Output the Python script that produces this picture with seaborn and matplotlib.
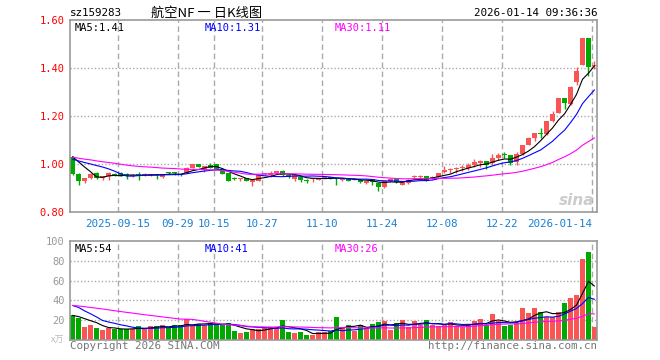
import numpy as np
import pandas as pd
import matplotlib
matplotlib.use("Agg")
import matplotlib.pyplot as plt
import seaborn as sns

# header texts
code = "sz159283"
title = "航空NF 一 日K线图"
stamp = "2026-01-14 09:36:36"

# daily candles, 88 trading days (2025-09-03 .. 2026-01-14)
opens = [1.032, 0.960, 0.929, 0.943, 0.965, 0.943, 0.951, 0.958, 0.965, 0.957,
         0.952, 0.957, 0.954, 0.954, 0.958, 0.948, 0.966, 0.963, 0.958, 0.965,
         0.985, 1.001, 0.976, 0.999, 1.000, 0.982, 0.962, 0.941, 0.940, 0.943,
         0.926, 0.932, 0.959, 0.954, 0.962, 0.973, 0.957, 0.940, 0.949, 0.935,
         0.937, 0.935, 0.943, 0.946, 0.943, 0.935, 0.937, 0.935, 0.935, 0.921,
         0.937, 0.921, 0.904, 0.929, 0.937, 0.915, 0.921, 0.948, 0.948, 0.951,
         0.940, 0.946, 0.968, 0.975, 0.981, 0.986, 0.985, 0.999, 1.007, 1.012,
         1.004, 1.026, 1.038, 1.037, 1.010, 1.043, 1.082, 1.110, 1.131, 1.126,
         1.182, 1.215, 1.276, 1.251, 1.343, 1.415, 1.526, 1.408]
highs = [1.035, 0.962, 0.945, 0.963, 0.967, 0.952, 0.966, 0.962, 0.967, 0.962,
         0.958, 0.967, 0.962, 0.960, 0.960, 0.960, 0.970, 0.968, 0.960, 0.987,
         1.002, 1.002, 0.995, 1.005, 1.002, 0.985, 0.964, 0.946, 0.945, 0.945,
         0.937, 0.956, 0.965, 0.973, 0.973, 0.975, 0.959, 0.956, 0.951, 0.937,
         0.945, 0.945, 0.951, 0.948, 0.945, 0.942, 0.939, 0.942, 0.937, 0.934,
         0.939, 0.923, 0.934, 0.942, 0.939, 0.928, 0.937, 0.957, 0.957, 0.953,
         0.951, 0.964, 0.993, 0.985, 0.990, 0.996, 1.007, 1.024, 1.018, 1.014,
         1.043, 1.049, 1.051, 1.040, 1.051, 1.082, 1.112, 1.130, 1.151, 1.180,
         1.224, 1.278, 1.278, 1.326, 1.404, 1.527, 1.527, 1.429]
lows = [0.955, 0.915, 0.924, 0.938, 0.938, 0.934, 0.934, 0.950, 0.950, 0.940,
        0.949, 0.935, 0.952, 0.952, 0.940, 0.943, 0.960, 0.955, 0.950, 0.962,
        0.984, 0.988, 0.966, 0.983, 0.980, 0.958, 0.930, 0.934, 0.932, 0.930,
        0.910, 0.930, 0.955, 0.948, 0.960, 0.952, 0.944, 0.932, 0.926, 0.924,
        0.925, 0.933, 0.941, 0.938, 0.915, 0.929, 0.930, 0.933, 0.924, 0.919,
        0.915, 0.890, 0.902, 0.927, 0.924, 0.913, 0.919, 0.940, 0.942, 0.930,
        0.938, 0.944, 0.962, 0.962, 0.965, 0.971, 0.976, 0.990, 0.990, 0.982,
        0.996, 1.018, 1.026, 0.996, 0.996, 1.040, 1.080, 1.096, 1.110, 1.124,
        1.176, 1.212, 1.232, 1.249, 1.332, 1.413, 1.368, 1.399]
closes = [0.960, 0.932, 0.943, 0.960, 0.943, 0.950, 0.962, 0.955, 0.951, 0.955,
          0.955, 0.955, 0.958, 0.958, 0.954, 0.958, 0.965, 0.962, 0.954, 0.985,
          1.001, 0.990, 0.993, 0.985, 0.982, 0.960, 0.932, 0.940, 0.941, 0.932,
          0.935, 0.954, 0.960, 0.965, 0.971, 0.954, 0.946, 0.954, 0.935, 0.932,
          0.943, 0.943, 0.949, 0.940, 0.937, 0.940, 0.932, 0.940, 0.926, 0.932,
          0.926, 0.904, 0.932, 0.940, 0.926, 0.926, 0.935, 0.950, 0.950, 0.932,
          0.949, 0.962, 0.976, 0.977, 0.983, 0.988, 0.998, 1.010, 1.012, 0.999,
          1.026, 1.037, 1.037, 1.007, 1.043, 1.079, 1.110, 1.129, 1.128, 1.179,
          1.210, 1.276, 1.257, 1.324, 1.388, 1.526, 1.404, 1.410]
# volume in 10k units
volumes = [25, 22.3, 13.6, 15.6, 12.3, 10.3, 12.3, 11.6, 11, 11,
           11.6, 14.3, 11, 14.3, 14.3, 15.6, 12.3, 15, 15, 21,
           14.3, 16.3, 15.6, 17, 17, 15, 17, 9.6, 7.6, 8.3,
           11, 11.6, 13, 13.6, 13, 20.3, 8.3, 7.6, 8.3, 5,
           5, 8.3, 8.3, 9, 23.6, 13, 15, 9.6, 15, 12.3,
           16.3, 18.3, 19.6, 10.3, 17, 20.3, 13, 19.6, 15, 20.3,
           15, 14.3, 15, 18.3, 14.3, 13.6, 15, 19.6, 21.6, 15,
           26.3, 19.6, 14.3, 15, 17.6, 32.3, 27.6, 32.3, 28, 23,
           23, 28, 37.6, 42.5, 45.5, 81.5, 89, 13.6]

# estimated sessions before the window (only feed the moving averages)
hist_close = [1.07, 1.06, 1.05, 1.07, 1.06, 1.05, 1.06, 1.07, 1.06, 1.05,
              1.02, 1.01, 1.00, 1.01, 1.02, 1.00, 0.99, 1.01, 1.02, 1.01,
              1.00, 1.01, 1.02, 1.01, 1.01, 1.04, 1.05, 1.06, 1.05]
hist_vol = [38, 34, 40, 36, 33, 37, 39, 35, 36, 34, 38, 37, 35, 36, 39, 34, 36, 37,
            24, 22, 42, 48, 45, 44, 46, 28, 24, 26, 22]

date_labels = ["2025-09-15", "09-29", "10-15", "10-27", "11-10",
               "11-24", "12-08", "12-22", "2026-01-14"]
date_index = [8, 18, 24, 32, 42, 52, 62, 72, 87]
price_ticks = [0.80, 1.00, 1.20, 1.40, 1.60]
vol_ticks = [20, 40, 60, 80, 100]

RED = "#fa5555"
GREEN = "#00a800"
GRID = "#aaaaaa"
FRAME = "#999999"

sns.set_style("white")
plt.rcParams["font.family"] = ["DejaVu Sans Mono", "Noto Sans CJK SC"]

n = len(closes)
df = pd.DataFrame({"x": np.arange(n), "open": opens, "high": highs,
                   "low": lows, "close": closes, "vol": volumes})
all_close = pd.Series(hist_close + closes)
all_vol = pd.Series(hist_vol + volumes)
k = len(hist_close)
for w in (5, 10, 30):
    df[f"ma{w}"] = all_close.rolling(w).mean().iloc[k:].values
    df[f"vma{w}"] = all_vol.rolling(w).mean().iloc[k:].values
df["up"] = df["close"] >= df["open"]
df["color"] = np.where(df["up"], RED, GREEN)

fig = plt.figure(figsize=(6.6, 3.6), dpi=100)
W, H = 660.0, 360.0
ax = fig.add_axes([70 / W, 1 - 212.3 / H, 527 / W, 192 / H])
axv = fig.add_axes([70 / W, 1 - 340.3 / H, 527 / W, 99.6 / H])

xlo, xhi = -2.5 / 6, (597 - 72.5) / 6
grid_x = [i - 2.5 / 6 for i in date_index]

# candles
ax.vlines(df["x"], df["low"], df["high"], colors=df["color"], lw=1)
body = (df["close"] - df["open"]).abs().clip(lower=0.004)
ax.bar(df["x"], body, bottom=df[["open", "close"]].min(axis=1),
       width=0.8, color=df["color"], linewidth=0)
sns.lineplot(data=df, x="x", y="ma5", ax=ax, color="black", lw=0.8)
sns.lineplot(data=df, x="x", y="ma10", ax=ax, color="#0000ff", lw=0.8)
sns.lineplot(data=df, x="x", y="ma30", ax=ax, color="#ff00ff", lw=0.8)

# volume
axv.bar(df["x"], df["vol"], width=0.8, color=df["color"], linewidth=0)
sns.lineplot(data=df, x="x", y="vma5", ax=axv, color="black", lw=0.8)
sns.lineplot(data=df, x="x", y="vma10", ax=axv, color="#0000ff", lw=0.8)
sns.lineplot(data=df, x="x", y="vma30", ax=axv, color="#ff00ff", lw=0.8)

for a in (ax, axv):
    a.set_xlim(xlo, xhi)
    for gx in grid_x:
        a.axvline(gx, color=GRID, lw=1, ls=(0, (4, 2.5)), zorder=0)
    for s in a.spines.values():
        s.set_color(FRAME)
        s.set_linewidth(1.2)
    a.set_xlabel("")
    a.set_ylabel("")
    a.tick_params(length=0, pad=4)

ax.set_ylim(0.80, 1.60)
for yv in price_ticks[1:-1]:
    ax.axhline(yv, color=GRID, lw=1, ls=(0, (1, 1.5)), zorder=0)
ax.set_yticks(price_ticks, [f"{v:.2f}" for v in price_ticks])
ax.tick_params(axis="y", colors="#ff0000", labelsize=7.5)
ax.set_xticks(grid_x, date_labels)
ax.tick_params(axis="x", colors="#1a80d0", labelsize=7.8, pad=5)
ax.get_xticklabels()[-1].set_horizontalalignment("right")

axv.set_ylim(0, 100)
for yv in vol_ticks[:-1]:
    axv.axhline(yv, color=GRID, lw=1, ls=(0, (1, 1.5)), zorder=0)
axv.set_yticks(vol_ticks, [str(v) for v in vol_ticks])
axv.tick_params(axis="y", colors="#999999", labelsize=7.5)
axv.set_xticks([])

# legends of current MA values
last = df.iloc[-1]
ax.text(5 / 527, 0.985, f"MA5:{last['ma5']:.2f}", transform=ax.transAxes,
        va="top", fontsize=7.5, color="black")
ax.text(135 / 527, 0.985, f"MA10:{last['ma10']:.2f}", transform=ax.transAxes,
        va="top", fontsize=7.5, color="#0000ff")
ax.text(265 / 527, 0.985, f"MA30:{last['ma30']:.2f}", transform=ax.transAxes,
        va="top", fontsize=7.5, color="#ff00ff")
axv.text(5 / 527, 0.97, f"MA5:{last['vma5']:.0f}", transform=axv.transAxes,
         va="top", fontsize=7.5, color="black")
axv.text(135 / 527, 0.97, f"MA10:{last['vma10']:.0f}", transform=axv.transAxes,
         va="top", fontsize=7.5, color="#0000ff")
axv.text(265 / 527, 0.97, f"MA30:{last['vma30']:.0f}", transform=axv.transAxes,
         va="top", fontsize=7.5, color="#ff00ff")

# header / footer
fig.text(70 / W, 1 - 13 / H, code, fontsize=7.8, va="center", color="black")
fig.text(207 / W, 1 - 13 / H, title, fontsize=9.5, va="center", ha="center",
         family=["Noto Sans CJK SC", "DejaVu Sans"], color="black")
fig.text(597 / W, 1 - 13 / H, stamp, fontsize=7.8, va="center", ha="right",
         color="black")
fig.text(70 / W, 1 - 346 / H, "Copyright 2026 SINA.COM", fontsize=7.8,
         va="center", color="#777777")
fig.text(597 / W, 1 - 346 / H, "http://finance.sina.com.cn", fontsize=7.8,
         va="center", ha="right", color="#777777")
fig.text(64 / W, 1 - 340 / H, "x万", fontsize=6.5, va="center", ha="right",
         family=["Noto Sans CJK SC", "DejaVu Sans"], color="#bbbbbb")
ax.text(0.995, 0.02, "sina", transform=ax.transAxes, ha="right", va="bottom",
        fontsize=11, fontweight="bold", style="italic", color="#cccccc",
        family="DejaVu Sans")

fig.savefig("out.png", dpi=100)
